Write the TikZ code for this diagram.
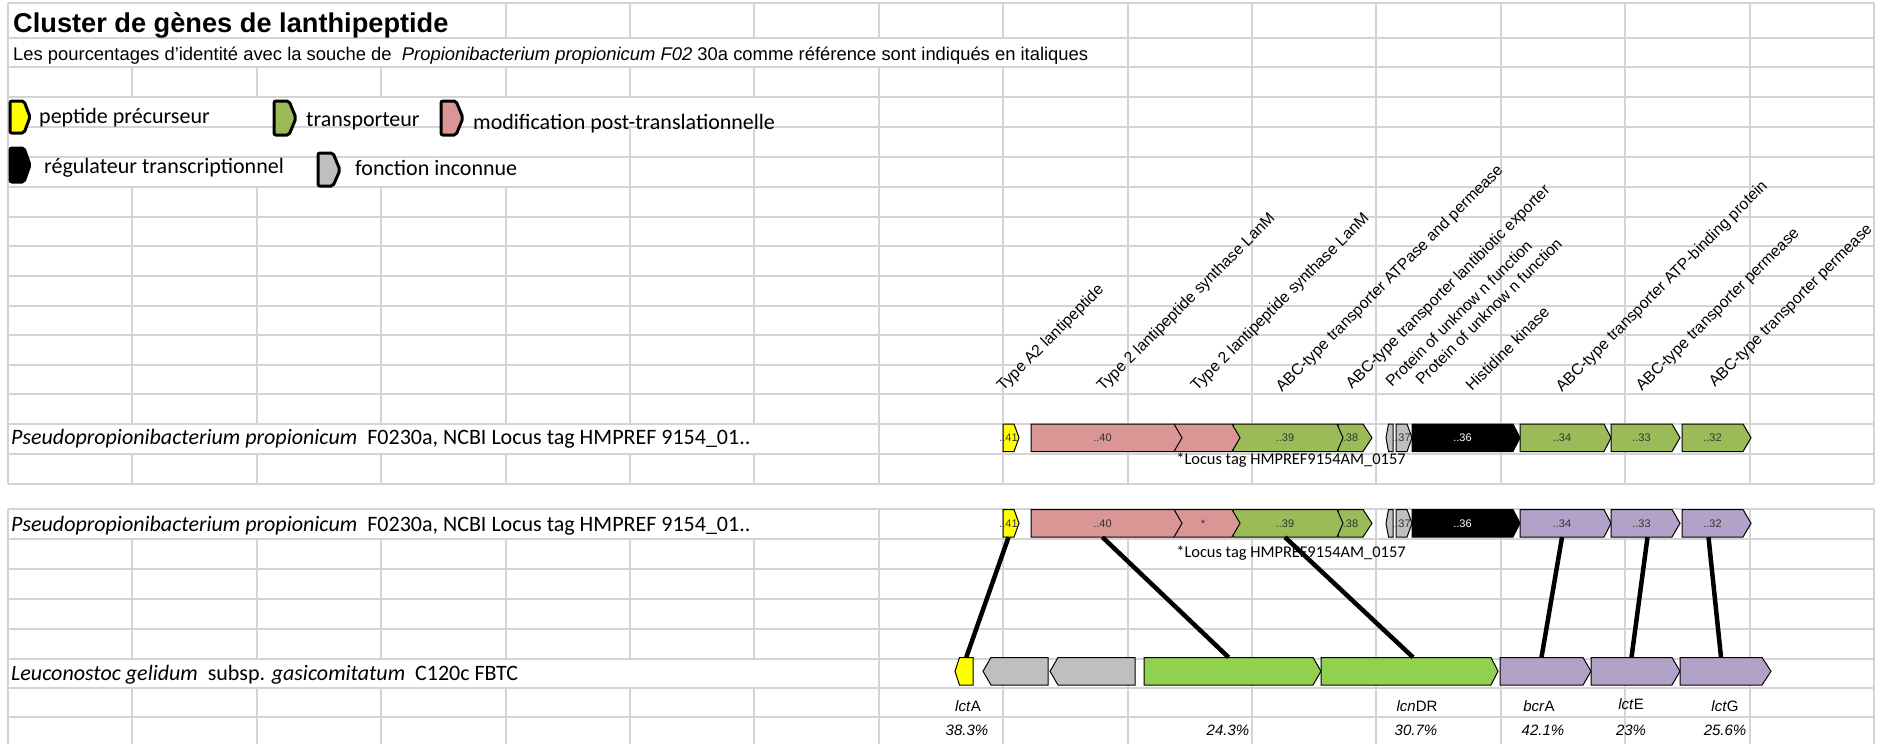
\documentclass[tikz,border=0pt]{standalone}
\usepackage{fontspec}
\setmainfont{Liberation Sans}
\newfontfamily\calibri{Carlito}
\usepackage{xcolor}
\usepackage{tikz}
\definecolor{gridc}{HTML}{D4D4D4}
\definecolor{pepY}{HTML}{FFFF00}
\definecolor{modR}{HTML}{D99694}
\definecolor{traG}{HTML}{9BBB59}
\definecolor{leuG}{HTML}{92D050}
\definecolor{unkG}{HTML}{BFBFBF}
\definecolor{abcP}{HTML}{B3A2C7}
\tikzset{
  gridline/.style={draw=gridc, line width=2pt},
  genebody/.style={draw=black, line width=1pt, line join=miter},
  genelabel/.style={
    inner sep=0pt,
    minimum height=27.5pt,
    text=black!80,
    font=\fontsize{11}{11}\selectfont
  },
  legicon/.style={draw=black, line width=3pt, rounded corners=2pt},
  legtext/.style={anchor=base west, inner sep=0pt, font=\calibri\fontsize{22}{22}\selectfont},
  species/.style={anchor=base west, inner sep=0pt, font=\calibri\fontsize{22}{22}\selectfont},
  locus/.style={anchor=base, inner sep=0pt, font=\calibri\fontsize{16.4}{16.4}\selectfont},
  annot/.style={anchor=base west, rotate=45, inner sep=0pt, font=\fontsize{15.8}{15.8}\selectfont},
  genename/.style={anchor=base, inner sep=0pt, font=\fontsize{15}{15}\selectfont},
  identity/.style={anchor=base, inner sep=0pt, font=\itshape\fontsize{15}{15}\selectfont},
  link/.style={draw=black, line width=4.5pt}
}
% gene arrows: [tip] name, left, right, top, colour, label
\newcommand{\genefwd}[7][7.5]{%
  \filldraw[genebody, fill=#6] (#3,#5) -- ({#4-#1},#5) -- (#4,{#5+13.75})
    -- ({#4-#1},{#5+27.5}) -- (#3,{#5+27.5}) -- cycle;
  \node[genelabel] (#2) at ({(#3+#4-#1)/2},{#5+13.75}) {#7};}
\newcommand{\generev}[7][7.5]{%
  \filldraw[genebody, fill=#6] (#4,#5) -- ({#3+#1},#5) -- (#3,{#5+13.75})
    -- ({#3+#1},{#5+27.5}) -- (#4,{#5+27.5}) -- cycle;
  \node[genelabel] (#2) at ({(#3+#1+#4)/2},{#5+13.75}) {#7};}

\begin{document}
\begin{tikzpicture}[x=1pt,y=-1pt]
  \useasboundingbox (0,0) rectangle (1883,744);

  % spreadsheet grid
  \foreach \y in {3,38,67,97,127,157,187,217,246,276,306,335,365,394,424,454,484,
                  509,539,569,599,629,659,688,717}
    \draw[gridline] (8,\y) -- (1874,\y);
  \foreach \ya/\yb/\cols in {3/38/{0,4,5,6,7,8,9,10,11,12,13,14,15},
                             38/67/{0,9,10,11,12,13,14,15},
                             67/97/{0,1,2,3,4,5,6,7,8,9,10,11,12,13,14,15},
                             97/127/{0,7,8,9,10,11,12,13,14,15},
                             127/187/{0,5,6,7,8,9,10,11,12,13,14,15},
                             187/424/{0,1,2,3,4,5,6,7,8,9,10,11,12,13,14,15},
                             424/454/{0,7,8,9,10,11,12,13,14,15},
                             454/484/{0,1,2,3,4,5,6,7,8,9,10,11,12,13,14,15},
                             509/539/{0,7,8,9,10,11,12,13,14,15},
                             539/659/{0,1,2,3,4,5,6,7,8,9,10,11,12,13,14,15},
                             659/688/{0,7,8,9,10,11,12,13,14,15},
                             688/744/{0,1,2,3,4,5,6,7,8,9,10,11,12,13,14,15}}
    \foreach \i in \cols
      \draw[gridline] ({8+124.4*\i},\ya) -- ({8+124.4*\i},\yb);

  % title and legend
  \node[anchor=base west, inner sep=0pt, font=\bfseries\fontsize{27.2}{27.2}\selectfont]
    (title) at (13,32) {Cluster de gènes de lanthipeptide};
  \node[anchor=base west, inner sep=0pt, font=\fontsize{18.4}{18.4}\selectfont]
    (subt) at (13,60) {Les pourcentages d'identité avec la souche de \ \textit{Propionibacterium propionicum F02} 30a comme référence sont indiqués en italiques};

  \filldraw[legicon, fill=pepY] (10,101) -- (24,101) -- (30,117) -- (24,133) -- (10,133) -- cycle;
  \node[legtext] (legpep) at (39,123) {peptide précurseur};
  \filldraw[legicon, fill=traG] (274,101) -- (289,101) -- (296,118) -- (289,135) -- (274,135) -- cycle;
  \node[legtext] (legtra) at (306,126) {transporteur};
  \filldraw[legicon, fill=modR] (441,101) -- (456,101) -- (463,118) -- (456,135) -- (441,135) -- cycle;
  \node[legtext] (legmod) at (473,129) {modification post-translationnelle};
  \filldraw[legicon, fill=black] (10,148) -- (24,148) -- (30,165) -- (24,182) -- (10,182) -- cycle;
  \node[legtext] (legreg) at (44,173) {régulateur transcriptionnel};
  \filldraw[legicon, fill=unkG] (318,153) -- (333,153) -- (340,170) -- (333,186) -- (318,186) -- cycle;
  \node[legtext] (legunk) at (355,175) {fonction inconnue};

  % gene annotations
  \node[annot] (lab41) at (1003,392) {Type A2 lantipeptide};
  \node[annot] (lab40) at (1103,392) {Type 2 lantipeptide synthase LanM};
  \node[annot] (lab40b) at (1197,392) {Type 2 lantipeptide synthase LanM};
  \node[annot] (lab39) at (1282,393) {ABC-type transporter ATPase and permease};
  \node[annot] (lab38) at (1352,390) {ABC-type transporter lantibiotic exporter};
  \node[annot] (lab37r) at (1392,388) {Protein of unknow n function};
  \node[annot] (lab37) at (1422,386) {Protein of unknow n function};
  \node[annot] (lab36) at (1472,392) {Histidine kinase};
  \node[annot] (lab34) at (1562,393) {ABC-type transporter ATP-binding protein};
  \node[annot] (lab33) at (1642,392) {ABC-type transporter permease};
  \node[annot] (lab32) at (1715,388) {ABC-type transporter permease};

  % reference strain, first copy
  \node[species] (spA) at (11,444)
    {\textit{Pseudopropionibacterium propionicum} \ F0230a, NCBI Locus tag HMPREF 9154\_01..};
  \genefwd[9]{a38}{1338}{1372}{424}{traG}{.38}
  \genefwd[6]{a39}{1233}{1343}{424}{traG}{..39}
  \genefwd[8]{a40b}{1174}{1240}{424}{modR}{}
  \genefwd[8]{a40}{1031}{1182}{424}{modR}{..40}
  \genefwd[5]{a41}{1003}{1019}{424}{pepY}{..41}
  \generev[2.5]{a37r}{1386}{1393}{424}{unkG}{}
  \genefwd[5]{a37}{1396}{1412}{424}{unkG}{..37}
  \genefwd[7]{a36}{1412}{1520}{424}{black}{\color{white}..36}
  \genefwd[7]{a34}{1520}{1611}{424}{traG}{..34}
  \genefwd[8]{a33}{1611}{1680}{424}{traG}{..33}
  \genefwd[8]{a32}{1682}{1751}{424}{traG}{..32}
  \node[locus] (locA) at (1291,464) {*Locus tag HMPREF9154AM\_0157};

  % reference strain, second copy
  \node[species] (spB) at (11,531)
    {\textit{Pseudopropionibacterium propionicum} \ F0230a, NCBI Locus tag HMPREF 9154\_01..};
  \genefwd[9]{b38}{1338}{1372}{509.5}{traG}{.38}
  \genefwd[6]{b39}{1233}{1343}{509.5}{traG}{..39}
  \genefwd[8]{b40b}{1174}{1240}{509.5}{modR}{*}
  \genefwd[8]{b40}{1031}{1182}{509.5}{modR}{..40}
  \genefwd[5]{b41}{1003}{1019}{509.5}{pepY}{..41}
  \generev[2.5]{b37r}{1386}{1393}{509.5}{unkG}{}
  \genefwd[5]{b37}{1396}{1412}{509.5}{unkG}{..37}
  \genefwd[7]{b36}{1412}{1520}{509.5}{black}{\color{white}..36}
  \genefwd[7]{b34}{1520}{1611}{509.5}{abcP}{..34}
  \genefwd[8]{b33}{1611}{1680}{509.5}{abcP}{..33}
  \genefwd[8]{b32}{1682}{1751}{509.5}{abcP}{..32}
  \node[locus] (locB) at (1291,557) {*Locus tag HMPREF9154AM\_0157};

  % Leuconostoc cluster
  \node[species] (spC) at (11,680)
    {\textit{Leuconostoc gelidum} \ subsp. \textit{gasicomitatum} \ C120c FBTC};
  \generev[4.5]{lctA}{955}{973}{657.5}{pepY}{}
  \generev[8]{unkA}{983}{1048}{657.5}{unkG}{}
  \generev[8]{unkB}{1050}{1135}{657.5}{unkG}{}
  \genefwd[8]{lanM}{1144}{1321}{657.5}{leuG}{}
  \genefwd[7]{lcnDR}{1321}{1498}{657.5}{leuG}{}
  \genefwd[8]{bcrA}{1500}{1591}{657.5}{abcP}{}
  \genefwd[8]{lctE}{1591}{1680}{657.5}{abcP}{}
  \genefwd[9]{lctG}{1680}{1771}{657.5}{abcP}{}

  \node[genename] (nlctA) at (968,711) {\textit{lct}A};
  \node[genename] (nlcnDR) at (1417,711) {\textit{lcn}DR};
  \node[genename] (nbcrA) at (1539,711) {\textit{bcr}A};
  \node[genename] (nlctE) at (1631,709) {\textit{lct}E};
  \node[genename] (nlctG) at (1725,711) {\textit{lct}G};
  \node[identity] (pA) at (967,735) {38.3\%};
  \node[identity] (pM) at (1228,735) {24.3\%};
  \node[identity] (pDR) at (1416,735) {30.7\%};
  \node[identity] (pbcr) at (1543,735) {42.1\%};
  \node[identity] (pE) at (1631,735) {23\%};
  \node[identity] (pG) at (1725,735) {25.6\%};

  \path (b41.south) edge[link] (lctA.north)
        (b40.south) edge[link] (lanM.north)
        (b39.south) edge[link] ([xshift=7pt]lcnDR.north)
        (b34.south) edge[link] (bcrA.north)
        ([xshift=6pt]b33.south) edge[link] (lctE.north)
        ([xshift=-4pt]b32.south) edge[link] (lctG.north);
\end{tikzpicture}
\end{document}
